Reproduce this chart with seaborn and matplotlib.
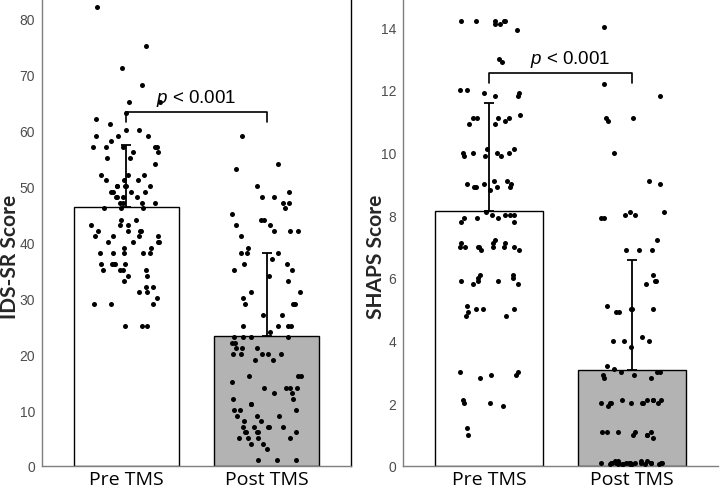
import numpy as np
import pandas as pd
import matplotlib
matplotlib.use('Agg')
import matplotlib.pyplot as plt
import seaborn as sns

groups = ["Pre TMS", "Post TMS"]

# IDS-SR scores
ids_pre = [82, 75, 71, 68, 65, 65, 63, 62, 61, 60, 60, 59, 59, 59, 58,
           57, 57, 57, 57, 57, 56, 56, 55, 55, 54, 52, 52, 52, 51, 51, 51,
           50, 50, 50, 50, 50, 49, 49, 49, 49, 48, 48, 48, 48, 47, 47, 47,
           47, 46, 46, 46, 44, 44, 43, 43, 43, 42, 42, 42, 42, 41, 41, 41,
           41, 40, 40, 40, 40, 39, 39, 38, 38, 38, 38, 38, 36, 36, 36, 36,
           36, 35, 35, 35, 35, 34, 34, 33, 32, 32, 31, 31, 30, 29, 29, 29,
           25, 25, 25]
ids_post = [59, 54, 53, 50, 49, 48, 48, 47, 47, 46, 45, 44, 44, 43, 43, 42,
            42, 42, 41, 39, 38, 38, 38, 37, 36, 36, 35, 35, 34, 33, 31, 31,
            30, 29, 29, 29, 27, 27, 25, 25, 25, 25, 24, 23, 23, 23, 23, 22,
            22, 21, 21, 21, 20, 20, 20, 20, 20, 19, 19, 16, 16, 16, 15, 14,
            14, 14, 14, 13, 13, 12, 12, 11, 11, 10, 10, 10, 9, 9, 9, 8, 8,
            7, 7, 7, 7, 7, 6, 6, 6, 6, 6, 5, 5, 5, 5, 4, 4, 3, 1, 1, 1]
ids_mean = [46.2, 23.2]
ids_sd = [11.1, 14.8]

# SHAPS scores
shaps_pre = [14.1, 14.2, 14.2, 14.2, 13.9, 14.2, 14.2, 14.1, 12.9, 13.0,
             12.0, 11.9, 11.8, 11.9, 11.8, 12.0, 11.2, 11.1, 11.1, 11.0,
             10.9, 11.1, 11.1, 10.9, 10.0, 10.1, 10.1, 9.9, 9.9, 9.9, 10.0,
             10.0, 10.0, 9.1, 9.0, 8.9, 9.1, 8.9, 8.8, 8.9, 8.9, 9.0, 9.0,
             8.0, 8.0, 7.9, 7.9, 7.9, 8.0, 8.0, 8.1, 7.8, 7.8, 7.1, 7.0,
             7.0, 7.1, 7.0, 7.0, 7.2, 7.0, 6.9, 7.0, 7.1, 7.0, 6.9, 6.1,
             6.1, 6.0, 6.0, 5.9, 5.9, 5.9, 5.8, 5.8, 5.0, 5.1, 5.0, 5.0,
             4.9, 4.8, 4.8, 3.0, 2.9, 3.0, 2.9, 2.8, 1.9, 2.0, 2.1, 2.0,
             1.2, 1.0]
shaps_post = [14.0, 12.2, 11.8, 11.1, 11.1, 11.0, 10.0, 9.1, 9.0, 8.1, 7.9,
              8.1, 7.9, 8.0, 8.0, 7.2, 6.9, 6.9, 6.9, 6.1, 5.9, 5.9, 5.8,
              5.1, 4.9, 5.0, 5.0, 5.0, 4.9, 4.1, 4.0, 4.0, 4.0, 3.8, 3.2,
              3.1, 3.0, 3.0, 3.0, 2.9, 2.9, 2.8, 2.8, 2.1, 2.0, 2.0, 2.0,
              2.1, 2.1, 2.0, 2.0, 2.1, 1.9, 2.1, 2.0, 2.0, 1.1, 1.1, 1.0,
              1.1, 1.0, 1.1, 1.0, 1.1, 0.9, 0.1, 0.1, 0.05, 0.1, 0.15, 0.1,
              0.05, 0.1, 0.1, 0.15, 0.05, 0.1, 0.1, 0.05, 0.1, 0.15, 0.1,
              0.05, 0.1, 0.1, 0.05, 0.1, 0.15, 0.1, 0.05, 0.1, 0.1, 0.05]
shaps_mean = [8.13, 3.06]
shaps_sd = [3.45, 3.51]

bar_colors = ["white", "#b3b3b3"]


def panel(ax, pre, post, means, sds, ylabel, ymax, yticks, br_y, br_leg,
          txt_dx, jit, lab_x):
    sns.barplot(x=groups, y=means, hue=groups, palette=bar_colors, legend=False,
                width=0.75, edgecolor="black", linewidth=1.0, ax=ax, zorder=1)
    df = pd.DataFrame({"group": [groups[0]] * len(pre) + [groups[1]] * len(post),
                       "score": pre + post})
    sns.stripplot(data=df, x="group", y="score", color="black", size=3.6,
                  jitter=jit, linewidth=0, ax=ax, zorder=3)
    ax.errorbar([0, 1], means, yerr=[[0, 0], sds], fmt="none", ecolor="black",
                elinewidth=1.3, capsize=3.5, capthick=1.3, zorder=4)
    # significance bracket
    ax.plot([0, 0, 1, 1], [br_y - br_leg, br_y, br_y, br_y - br_leg],
            color="black", lw=1.2, zorder=4)
    ax.text(0.5 + txt_dx, br_y + ymax * 0.009, r"$\mathit{p}$ < 0.001",
            ha="center", va="bottom", fontsize=13.5, color="black")
    ax.set_xlim(-0.6, 1.6)
    ax.set_ylim(0, ymax)
    ax.set_yticks(yticks)
    ax.set_xlabel("")
    ax.set_ylabel(ylabel, fontsize=15, fontweight="bold", family="Lato")
    ax.yaxis.set_label_coords(lab_x, 0.45)
    ax.tick_params(axis="y", length=4, width=1, color="#7f7f7f",
                   labelcolor="#4d4d4d", labelsize=10, pad=1)
    ax.tick_params(axis="x", length=3, width=1, color="#7f7f7f",
                   labelcolor="black", labelsize=14, pad=0)
    for lbl in ax.get_xticklabels():
        lbl.set_fontfamily("Open Sans")
    for side in ["left", "bottom"]:
        ax.spines[side].set_color("#7f7f7f")
        ax.spines[side].set_linewidth(1.0)
    ax.spines["top"].set_visible(False)


def main():
    sns.set_style("white")
    plt.rcParams["font.family"] = ["Liberation Sans", "DejaVu Sans"]
    plt.rcParams["mathtext.fontset"] = "custom"
    plt.rcParams["mathtext.it"] = "Liberation Sans:italic"
    plt.rcParams["mathtext.rm"] = "Liberation Sans"
    np.random.seed(7)

    fig = plt.figure(figsize=(7.2, 4.89), dpi=100)
    ax1 = fig.add_axes([42 / 720, 22 / 489, 309 / 720, 467 / 489])
    ax2 = fig.add_axes([403 / 720, 22 / 489, 315 / 720, 467 / 489])

    panel(ax1, ids_pre, ids_post, ids_mean, ids_sd, "IDS-SR Score",
          83.4, range(0, 81, 10), 63.2, 1.8, 0.0, 0.25, -0.071)
    ax1.spines["right"].set_color("black")
    ax1.spines["right"].set_linewidth(1.0)

    panel(ax2, shaps_pre, shaps_post, shaps_mean, shaps_sd, "SHAPS Score",
          14.9, range(0, 15, 2), 12.53, 0.3, 0.07, 0.22, -0.054)
    ax2.spines["right"].set_visible(False)

    fig.savefig("out.png", dpi=100)


if __name__ == "__main__":
    main()
